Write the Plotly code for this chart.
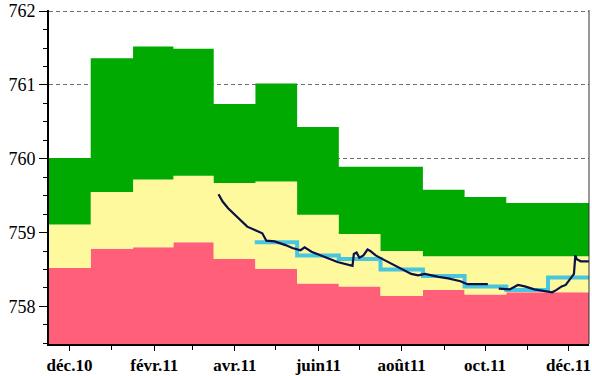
import pandas as pd
import plotly.graph_objects as go

# Monthly reference bands (value for the 1st of each month)
months = pd.date_range("2010-12-01", "2011-12-01", freq="MS")
red_top = [758.52, 758.78, 758.80, 758.87, 758.64, 758.51, 758.31,
           758.27, 758.14, 758.22, 758.16, 758.19, 758.19]
yellow_top = [759.11, 759.55, 759.72, 759.77, 759.67, 759.69, 759.24,
              758.98, 758.75, 758.68, 758.68, 758.68, 758.68]
green_top = [760.01, 761.36, 761.52, 761.49, 760.74, 761.02, 760.43,
             759.89, 759.89, 759.58, 759.48, 759.40, 759.40]

# Monthly mean level (step curve)
mean_months = pd.date_range("2011-05-01", "2011-12-01", freq="MS")
mean_level = [758.87, 758.69, 758.64, 758.50, 758.41, 758.27, 758.22, 758.39]

# Observed level (None marks missing readings)
obs_dates = ["2011-03-20", "2011-03-22", "2011-03-23", "2011-03-27", "2011-04-01",
             "2011-04-06", "2011-04-10", "2011-04-16", "2011-04-21", "2011-04-24",
             "2011-04-30", "2011-05-08", "2011-05-13", "2011-05-19", "2011-05-22",
             "2011-05-27", "2011-06-03", "2011-06-08", "2011-06-15", "2011-06-26",
             "2011-06-27", "2011-06-29", "2011-07-01", "2011-07-04", "2011-07-07",
             "2011-07-09", "2011-07-13", "2011-07-18", "2011-07-24", "2011-07-31",
             "2011-08-08", "2011-08-13", "2011-08-18", "2011-08-28", "2011-09-04",
             "2011-09-13", "2011-09-18", "2011-10-03", "2011-10-07", "2011-10-11",
             "2011-10-19", "2011-10-25", "2011-10-30", "2011-11-06", "2011-11-14",
             "2011-11-19", "2011-11-22", "2011-11-26", "2011-11-29", "2011-12-03",
             "2011-12-05", "2011-12-06", "2011-12-07", "2011-12-10", "2011-12-16"]
obs_level = [759.52, 759.46, 759.42, 759.33, 759.24,
             759.15, 759.08, 759.03, 758.99, 758.89,
             758.88, 758.83, 758.79, 758.76, 758.80,
             758.74, 758.69, 758.65, 758.60, 758.55,
             758.71, 758.73, 758.66, 758.69, 758.77,
             758.75, 758.69, 758.64, 758.58, 758.51,
             758.44, 758.42, 758.44, 758.40, 758.38,
             758.34, 758.30, 758.30, None, 758.24,
             758.23, 758.29, 758.27, 758.23, 758.20,
             758.19, 758.22, 758.27, 758.29, 758.38,
             758.44, 758.69, 758.64, 758.61, 758.61]

tick_dates = ["2010-12-01", "2011-02-01", "2011-04-01", "2011-06-01",
              "2011-08-01", "2011-10-01", "2011-12-01"]
tick_text = ["déc.10", "févr.11", "avr.11", "juin11", "août11", "oct.11", "déc.11"]
y_ticks = [758, 759, 760, 761, 762]

SERIF = "Liberation Serif"


def month_steps(dates, values):
    """Edges half-way between monthly points, for an 'hv' step trace."""
    d = list(pd.to_datetime(dates))
    edges = [d[0] - (d[1] - d[0]) / 2]
    edges += [a + (b - a) / 2 for a, b in zip(d[:-1], d[1:])]
    edges.append(d[-1] + (d[-1] - d[-2]) / 2)
    return edges, list(values) + [values[-1]]


fig = go.Figure()

bands = [(red_top, "#FF5F78", "tozeroy"),
         (yellow_top, "#FFF99E", "tonexty"),
         (green_top, "#00AA00", "tonexty")]
for vals, col, mode in bands:
    ex, ey = month_steps(months, vals)
    fig.add_trace(go.Scatter(x=ex, y=ey, mode="lines", line=dict(width=0, shape="hv"),
                             fill=mode, fillcolor=col, hoverinfo="skip"))

mx, my = month_steps(mean_months, mean_level)
fig.add_trace(go.Scatter(x=mx, y=my, mode="lines",
                         line=dict(color="#48C6DE", width=4, shape="hv")))

fig.add_trace(go.Scatter(x=pd.to_datetime(obs_dates), y=obs_level, mode="lines",
                         connectgaps=False, line=dict(color="#0C1048", width=2.2)))

fig.update_layout(
    width=592, height=376,
    margin=dict(l=49, r=1, t=6, b=30),
    paper_bgcolor="white", plot_bgcolor="white",
    showlegend=False,
    font=dict(family=SERIF, color="black"),
    shapes=[dict(type="line", xref="paper", yref="paper", x0=1, x1=1, y0=0, y1=1,
                 line=dict(color="#333333", width=1), layer="above")],
)

fig.update_xaxes(
    type="date", range=["2010-11-16", "2011-12-16"],
    tickmode="array", tickvals=tick_dates, ticktext=tick_text,
    ticks="outside", ticklen=5, tickcolor="black", tickwidth=1,
    tickfont=dict(size=17, family=SERIF, weight="bold"),
    ticklabeloverflow="allow",
    showgrid=False, showline=True, linecolor="black", linewidth=2,
    minor=dict(tickvals=list(months), ticks="outside", ticklen=4, tickcolor="black"),
    zeroline=False,
)
fig.update_yaxes(
    range=[757.49, 762.015], tickmode="array", tickvals=y_ticks,
    ticks="outside", ticklen=8, tickcolor="black", tickwidth=1,
    tickfont=dict(size=18, family=SERIF),
    ticklabeloverflow="allow",
    showgrid=True, gridcolor="#6E6E6E", griddash="4px,3px", gridwidth=1,
    showline=True, linecolor="black", linewidth=2,
    minor=dict(dtick=0.25, ticks="outside", ticklen=4, tickcolor="black", showgrid=False),
    zeroline=False,
)

fig.write_html("out.html")
